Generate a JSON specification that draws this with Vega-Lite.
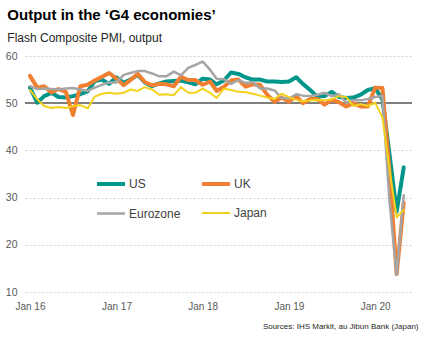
{
"$schema": "https://vega.github.io/schema/vega-lite/v6.json",
"width": 387,
"height": 236,
"padding": {"left": 5, "top": 8, "right": 10, "bottom": 5},
"title": {"text": "Output in the ‘G4 economies’", "subtitle": "Flash Composite PMI, output", "anchor": "start", "frame": "bounds", "font": "Liberation Sans", "fontSize": 15, "fontWeight": "bold", "color": "#000000", "subtitleFont": "Liberation Sans", "subtitleFontSize": 12, "subtitleColor": "#262626", "subtitlePadding": 10, "offset": 7, "dx": 2},
"config": {
  "view": {"stroke": null},
  "font": "Liberation Sans",
  "legend": {"orient": "none", "legendX": 70, "legendY": 112, "columns": 2, "direction": "horizontal", "symbolType": "stroke", "symbolSize": 784, "labelFontSize": 12, "labelColor": "#404040", "labelFont": "Liberation Sans", "labelOffset": 2, "columnPadding": 13, "rowPadding": 6, "padding": 0}
},
"datasets": {
"pmi": [
{"d":"2016-01-01","s":"US","v":53.3},{"d":"2016-02-01","s":"US","v":50.1},{"d":"2016-03-01","s":"US","v":51.5},{"d":"2016-04-01","s":"US","v":52.2},{"d":"2016-05-01","s":"US","v":51.3},{"d":"2016-06-01","s":"US","v":51.2},{"d":"2016-07-01","s":"US","v":51.5},{"d":"2016-08-01","s":"US","v":51.9},{"d":"2016-09-01","s":"US","v":52.5},{"d":"2016-10-01","s":"US","v":54.7},{"d":"2016-11-01","s":"US","v":55.0},{"d":"2016-12-01","s":"US","v":54.1},
{"d":"2017-01-01","s":"US","v":55.5},{"d":"2017-02-01","s":"US","v":54.3},{"d":"2017-03-01","s":"US","v":55.0},{"d":"2017-04-01","s":"US","v":56.0},{"d":"2017-05-01","s":"US","v":54.4},{"d":"2017-06-01","s":"US","v":53.6},{"d":"2017-07-01","s":"US","v":54.2},{"d":"2017-08-01","s":"US","v":54.6},{"d":"2017-09-01","s":"US","v":54.7},{"d":"2017-10-01","s":"US","v":54.8},{"d":"2017-11-01","s":"US","v":54.4},{"d":"2017-12-01","s":"US","v":54.0},
{"d":"2018-01-01","s":"US","v":55.2},{"d":"2018-02-01","s":"US","v":55.0},{"d":"2018-03-01","s":"US","v":54.0},{"d":"2018-04-01","s":"US","v":54.8},{"d":"2018-05-01","s":"US","v":56.5},{"d":"2018-06-01","s":"US","v":56.2},{"d":"2018-07-01","s":"US","v":55.5},{"d":"2018-08-01","s":"US","v":55.0},{"d":"2018-09-01","s":"US","v":55.0},{"d":"2018-10-01","s":"US","v":54.6},{"d":"2018-11-01","s":"US","v":54.6},{"d":"2018-12-01","s":"US","v":54.5},
{"d":"2019-01-01","s":"US","v":54.6},{"d":"2019-02-01","s":"US","v":55.5},{"d":"2019-03-01","s":"US","v":54.1},{"d":"2019-04-01","s":"US","v":52.8},{"d":"2019-05-01","s":"US","v":51.4},{"d":"2019-06-01","s":"US","v":51.5},{"d":"2019-07-01","s":"US","v":52.4},{"d":"2019-08-01","s":"US","v":51.3},{"d":"2019-09-01","s":"US","v":51.1},{"d":"2019-10-01","s":"US","v":51.2},{"d":"2019-11-01","s":"US","v":51.8},{"d":"2019-12-01","s":"US","v":52.8},
{"d":"2020-01-01","s":"US","v":53.2},{"d":"2020-02-01","s":"US","v":50.8},{"d":"2020-03-01","s":"US","v":39.5},{"d":"2020-04-01","s":"US","v":27.0},{"d":"2020-05-01","s":"US","v":36.4},
{"d":"2016-01-01","s":"UK","v":55.8},{"d":"2016-02-01","s":"UK","v":53.3},{"d":"2016-03-01","s":"UK","v":53.6},{"d":"2016-04-01","s":"UK","v":52.3},{"d":"2016-05-01","s":"UK","v":53.0},{"d":"2016-06-01","s":"UK","v":52.4},{"d":"2016-07-01","s":"UK","v":47.5},{"d":"2016-08-01","s":"UK","v":53.6},{"d":"2016-09-01","s":"UK","v":53.9},{"d":"2016-10-01","s":"UK","v":54.8},{"d":"2016-11-01","s":"UK","v":55.6},{"d":"2016-12-01","s":"UK","v":56.4},
{"d":"2017-01-01","s":"UK","v":55.2},{"d":"2017-02-01","s":"UK","v":53.8},{"d":"2017-03-01","s":"UK","v":54.9},{"d":"2017-04-01","s":"UK","v":56.2},{"d":"2017-05-01","s":"UK","v":54.5},{"d":"2017-06-01","s":"UK","v":53.8},{"d":"2017-07-01","s":"UK","v":54.1},{"d":"2017-08-01","s":"UK","v":54.0},{"d":"2017-09-01","s":"UK","v":53.6},{"d":"2017-10-01","s":"UK","v":55.6},{"d":"2017-11-01","s":"UK","v":54.9},{"d":"2017-12-01","s":"UK","v":54.9},
{"d":"2018-01-01","s":"UK","v":53.9},{"d":"2018-02-01","s":"UK","v":54.6},{"d":"2018-03-01","s":"UK","v":52.6},{"d":"2018-04-01","s":"UK","v":53.5},{"d":"2018-05-01","s":"UK","v":54.8},{"d":"2018-06-01","s":"UK","v":55.0},{"d":"2018-07-01","s":"UK","v":53.5},{"d":"2018-08-01","s":"UK","v":54.0},{"d":"2018-09-01","s":"UK","v":53.9},{"d":"2018-10-01","s":"UK","v":51.8},{"d":"2018-11-01","s":"UK","v":50.3},{"d":"2018-12-01","s":"UK","v":51.2},
{"d":"2019-01-01","s":"UK","v":50.3},{"d":"2019-02-01","s":"UK","v":51.5},{"d":"2019-03-01","s":"UK","v":50.0},{"d":"2019-04-01","s":"UK","v":50.9},{"d":"2019-05-01","s":"UK","v":50.9},{"d":"2019-06-01","s":"UK","v":49.7},{"d":"2019-07-01","s":"UK","v":50.7},{"d":"2019-08-01","s":"UK","v":50.2},{"d":"2019-09-01","s":"UK","v":49.3},{"d":"2019-10-01","s":"UK","v":50.0},{"d":"2019-11-01","s":"UK","v":49.3},{"d":"2019-12-01","s":"UK","v":49.3},
{"d":"2020-01-01","s":"UK","v":53.3},{"d":"2020-02-01","s":"UK","v":53.2},{"d":"2020-03-01","s":"UK","v":36.0},{"d":"2020-04-01","s":"UK","v":13.8},{"d":"2020-05-01","s":"UK","v":28.9},
{"d":"2016-01-01","s":"Eurozone","v":53.6},{"d":"2016-02-01","s":"Eurozone","v":53.0},{"d":"2016-03-01","s":"Eurozone","v":53.1},{"d":"2016-04-01","s":"Eurozone","v":53.0},{"d":"2016-05-01","s":"Eurozone","v":52.9},{"d":"2016-06-01","s":"Eurozone","v":53.1},{"d":"2016-07-01","s":"Eurozone","v":53.2},{"d":"2016-08-01","s":"Eurozone","v":52.9},{"d":"2016-09-01","s":"Eurozone","v":52.6},{"d":"2016-10-01","s":"Eurozone","v":53.3},{"d":"2016-11-01","s":"Eurozone","v":53.9},{"d":"2016-12-01","s":"Eurozone","v":54.4},
{"d":"2017-01-01","s":"Eurozone","v":54.4},{"d":"2017-02-01","s":"Eurozone","v":56.0},{"d":"2017-03-01","s":"Eurozone","v":56.4},{"d":"2017-04-01","s":"Eurozone","v":56.8},{"d":"2017-05-01","s":"Eurozone","v":56.8},{"d":"2017-06-01","s":"Eurozone","v":56.3},{"d":"2017-07-01","s":"Eurozone","v":55.7},{"d":"2017-08-01","s":"Eurozone","v":55.7},{"d":"2017-09-01","s":"Eurozone","v":56.7},{"d":"2017-10-01","s":"Eurozone","v":55.9},{"d":"2017-11-01","s":"Eurozone","v":57.5},{"d":"2017-12-01","s":"Eurozone","v":58.1},
{"d":"2018-01-01","s":"Eurozone","v":58.8},{"d":"2018-02-01","s":"Eurozone","v":57.1},{"d":"2018-03-01","s":"Eurozone","v":55.2},{"d":"2018-04-01","s":"Eurozone","v":55.1},{"d":"2018-05-01","s":"Eurozone","v":54.1},{"d":"2018-06-01","s":"Eurozone","v":54.9},{"d":"2018-07-01","s":"Eurozone","v":54.3},{"d":"2018-08-01","s":"Eurozone","v":54.5},{"d":"2018-09-01","s":"Eurozone","v":53.1},{"d":"2018-10-01","s":"Eurozone","v":53.1},{"d":"2018-11-01","s":"Eurozone","v":52.7},{"d":"2018-12-01","s":"Eurozone","v":51.1},
{"d":"2019-01-01","s":"Eurozone","v":51.0},{"d":"2019-02-01","s":"Eurozone","v":51.9},{"d":"2019-03-01","s":"Eurozone","v":51.6},{"d":"2019-04-01","s":"Eurozone","v":51.5},{"d":"2019-05-01","s":"Eurozone","v":51.8},{"d":"2019-06-01","s":"Eurozone","v":52.2},{"d":"2019-07-01","s":"Eurozone","v":51.5},{"d":"2019-08-01","s":"Eurozone","v":51.9},{"d":"2019-09-01","s":"Eurozone","v":50.1},{"d":"2019-10-01","s":"Eurozone","v":50.6},{"d":"2019-11-01","s":"Eurozone","v":50.6},{"d":"2019-12-01","s":"Eurozone","v":50.9},
{"d":"2020-01-01","s":"Eurozone","v":51.3},{"d":"2020-02-01","s":"Eurozone","v":51.6},{"d":"2020-03-01","s":"Eurozone","v":29.7},{"d":"2020-04-01","s":"Eurozone","v":13.6},{"d":"2020-05-01","s":"Eurozone","v":30.5},
{"d":"2016-01-01","s":"Japan","v":52.8},{"d":"2016-02-01","s":"Japan","v":50.8},{"d":"2016-03-01","s":"Japan","v":49.4},{"d":"2016-04-01","s":"Japan","v":49.0},{"d":"2016-05-01","s":"Japan","v":49.2},{"d":"2016-06-01","s":"Japan","v":49.0},{"d":"2016-07-01","s":"Japan","v":49.4},{"d":"2016-08-01","s":"Japan","v":49.6},{"d":"2016-09-01","s":"Japan","v":48.9},{"d":"2016-10-01","s":"Japan","v":51.4},{"d":"2016-11-01","s":"Japan","v":52.0},{"d":"2016-12-01","s":"Japan","v":52.2},
{"d":"2017-01-01","s":"Japan","v":52.0},{"d":"2017-02-01","s":"Japan","v":52.2},{"d":"2017-03-01","s":"Japan","v":52.9},{"d":"2017-04-01","s":"Japan","v":52.6},{"d":"2017-05-01","s":"Japan","v":53.4},{"d":"2017-06-01","s":"Japan","v":52.9},{"d":"2017-07-01","s":"Japan","v":51.8},{"d":"2017-08-01","s":"Japan","v":51.9},{"d":"2017-09-01","s":"Japan","v":51.7},{"d":"2017-10-01","s":"Japan","v":53.4},{"d":"2017-11-01","s":"Japan","v":52.2},{"d":"2017-12-01","s":"Japan","v":52.2},
{"d":"2018-01-01","s":"Japan","v":53.1},{"d":"2018-02-01","s":"Japan","v":52.2},{"d":"2018-03-01","s":"Japan","v":51.1},{"d":"2018-04-01","s":"Japan","v":53.1},{"d":"2018-05-01","s":"Japan","v":52.8},{"d":"2018-06-01","s":"Japan","v":52.4},{"d":"2018-07-01","s":"Japan","v":52.3},{"d":"2018-08-01","s":"Japan","v":52.0},{"d":"2018-09-01","s":"Japan","v":51.6},{"d":"2018-10-01","s":"Japan","v":51.2},{"d":"2018-11-01","s":"Japan","v":50.9},{"d":"2018-12-01","s":"Japan","v":52.0},
{"d":"2019-01-01","s":"Japan","v":51.3},{"d":"2019-02-01","s":"Japan","v":50.7},{"d":"2019-03-01","s":"Japan","v":50.4},{"d":"2019-04-01","s":"Japan","v":50.6},{"d":"2019-05-01","s":"Japan","v":50.7},{"d":"2019-06-01","s":"Japan","v":50.6},{"d":"2019-07-01","s":"Japan","v":50.8},{"d":"2019-08-01","s":"Japan","v":51.5},{"d":"2019-09-01","s":"Japan","v":51.3},{"d":"2019-10-01","s":"Japan","v":49.4},{"d":"2019-11-01","s":"Japan","v":49.8},{"d":"2019-12-01","s":"Japan","v":49.4},
{"d":"2020-01-01","s":"Japan","v":50.1},{"d":"2020-02-01","s":"Japan","v":47.0},{"d":"2020-03-01","s":"Japan","v":36.2},{"d":"2020-04-01","s":"Japan","v":25.8},{"d":"2020-05-01","s":"Japan","v":27.4}
]
},
"data": {"name": "pmi"},
"layer": [
  {
    "mark": {"type": "rule", "color": "#7f7f7f", "strokeWidth": 1.5},
    "encoding": {"y": {"datum": 50, "type": "quantitative"}}
  },
  {
    "mark": {"type": "line", "strokeJoin": "round", "strokeCap": "round"},
    "encoding": {
      "x": {"field": "d", "type": "temporal",
        "scale": {"type": "utc", "domain": [{"year": 2015, "month": 12, "date": 11, "utc": true}, {"year": 2020, "month": 6, "date": 5, "utc": true}]},
        "axis": {"values": [{"year": 2016, "month": 1, "date": 1, "utc": true}, {"year": 2017, "month": 1, "date": 1, "utc": true}, {"year": 2018, "month": 1, "date": 1, "utc": true}, {"year": 2019, "month": 1, "date": 1, "utc": true}, {"year": 2020, "month": 1, "date": 1, "utc": true}],
          "labelExpr": "utcFormat(datum.value, '%b %y')", "labelFlush": false, "domain": false, "ticks": false, "grid": false,
          "labelFontSize": 10, "labelColor": "#595959", "labelPadding": 9,
          "title": "Sources: IHS Markit, au Jibun Bank (Japan)", "titleFontSize": 8, "titleFontWeight": "normal", "titleColor": "#262626",
          "titleAlign": "right", "titleAnchor": "end", "titleX": 393, "titleY": 30, "titleBaseline": "top"}},
      "y": {"field": "v", "type": "quantitative",
        "scale": {"domain": [10, 60], "nice": false, "zero": false},
        "axis": {"values": [10, 20, 30, 40, 50, 60], "title": null, "domain": false, "ticks": false, "grid": true, "gridColor": "#d0d0d0", "gridDash": [2, 2], "labelFontSize": 10.5, "labelColor": "#595959", "labelPadding": 8}},
      "color": {"field": "s", "type": "nominal", "scale": {"domain": ["US", "UK", "Eurozone", "Japan"], "range": ["#00968B", "#F07F32", "#A5A5A5", "#F2D21B"]}, "legend": {"title": null}},
      "strokeWidth": {"field": "s", "type": "nominal", "scale": {"type": "ordinal", "domain": ["US", "UK", "Eurozone", "Japan"], "range": [4, 4, 2.5, 2]}, "legend": {"title": null}}
    }
  }
]
}
